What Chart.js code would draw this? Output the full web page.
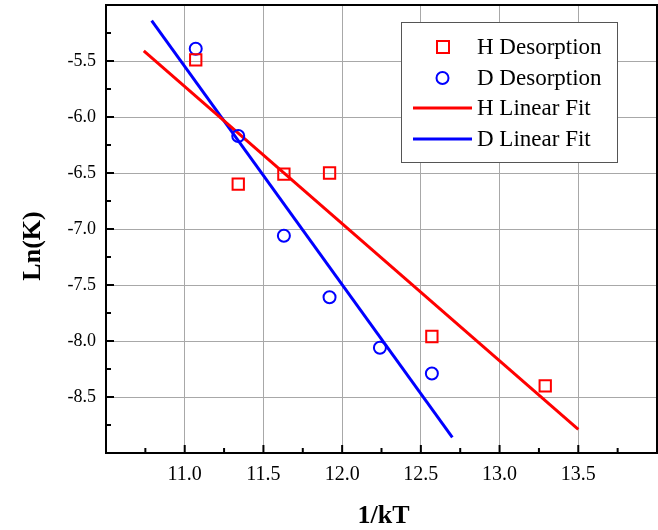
<!DOCTYPE html>
<html>
<head>
<meta charset="utf-8">
<script src="https://cdn.jsdelivr.net/npm/chart.js@4/dist/chart.umd.min.js"></script>
<style>
  html, body { margin: 0; padding: 0; background: #fff; }
  #wrap { width: 658px; height: 530px; }
</style>
</head>
<body>
<div id="wrap"><canvas id="chart" width="658" height="530"></canvas></div>
<script>
// ── Data ──
var hX = [11.07, 11.34, 11.63, 11.92, 12.57, 13.29];
var hY = [-5.49, -6.60, -6.51, -6.50, -7.96, -8.40];
var dX = [11.07, 11.34, 11.63, 11.92, 12.24, 12.57];
var dY = [-5.39, -6.17, -7.06, -7.61, -8.06, -8.29];

var hFitX = [10.74, 13.50];
var hFitY = [-5.41, -8.79];
var dFitX = [10.79, 12.70];
var dFitY = [-5.14, -8.86];

var xTicks = [11.0, 11.5, 12.0, 12.5, 13.0, 13.5];
var yTicks = [-5.5, -6.0, -6.5, -7.0, -7.5, -8.0, -8.5];

var SERIF = '"Liberation Serif", "DejaVu Serif", serif';

function pts(xs, ys) {
  return xs.map(function(x, i) { return { x: x, y: ys[i] }; });
}

// ── Inward ticks, frame, titles, legend ──
var framePlugin = {
  id: 'frame',
  afterDatasetsDraw: function(chart) {
    var ctx = chart.ctx;
    var a   = chart.chartArea;
    var xs  = chart.scales.x;
    var ys  = chart.scales.y;
    var v, p, major;

    ctx.save();
    ctx.strokeStyle = '#000';
    ctx.lineWidth   = 2;
    ctx.beginPath();
    ctx.moveTo(a.left, a.top);
    ctx.lineTo(a.right, a.top);
    ctx.lineTo(a.right, a.bottom);
    ctx.stroke();

    ctx.lineWidth = 2;
    for (v = xs.min; v <= xs.max + 1e-9; v += 0.25) {
      p     = xs.getPixelForValue(v);
      major = Math.abs(v * 2 - Math.round(v * 2)) < 1e-6;
      ctx.beginPath();
      ctx.moveTo(p, a.bottom);
      ctx.lineTo(p, a.bottom - (major ? 8 : 5));
      ctx.stroke();
    }
    for (v = ys.min; v <= ys.max + 1e-9; v += 0.25) {
      p     = ys.getPixelForValue(v);
      major = Math.abs(v * 2 - Math.round(v * 2)) < 1e-6;
      ctx.beginPath();
      ctx.moveTo(a.left, p);
      ctx.lineTo(a.left + (major ? 8 : 5), p);
      ctx.stroke();
    }

    // axis titles
    ctx.fillStyle    = '#000';
    ctx.font         = 'bold 26px ' + SERIF;
    ctx.textAlign    = 'center';
    ctx.textBaseline = 'middle';
    ctx.fillText('1/kT', (a.left + a.right) / 2 + 2, 516);
    ctx.translate(33, 246);
    ctx.rotate(-Math.PI / 2);
    ctx.fillText('Ln(K)', 0, 0);
    ctx.restore();

    // legend
    var box = { x: 401, y: 22, w: 216, h: 140 };
    ctx.save();
    ctx.fillStyle   = '#fff';
    ctx.fillRect(box.x, box.y, box.w, box.h);
    ctx.strokeStyle = '#555';
    ctx.lineWidth   = 1;
    ctx.strokeRect(box.x + 0.5, box.y + 0.5, box.w, box.h);

    var rows = [
      { label: 'H Desorption', kind: 'rect',   color: '#ff0000', y: 47 },
      { label: 'D Desorption', kind: 'circle', color: '#0000ff', y: 78 },
      { label: 'H Linear Fit', kind: 'line',   color: '#ff0000', y: 108 },
      { label: 'D Linear Fit', kind: 'line',   color: '#0000ff', y: 139 },
    ];
    rows.forEach(function(r) {
      ctx.strokeStyle = r.color;
      if (r.kind === 'rect') {
        ctx.lineWidth = 2;
        ctx.strokeRect(437, r.y - 6, 12, 12);
      } else if (r.kind === 'circle') {
        ctx.lineWidth = 2;
        ctx.beginPath();
        ctx.arc(442.5, r.y, 6, 0, Math.PI * 2);
        ctx.stroke();
      } else {
        ctx.lineWidth = 3;
        ctx.beginPath();
        ctx.moveTo(413, r.y);
        ctx.lineTo(472, r.y);
        ctx.stroke();
      }
      ctx.fillStyle    = '#000';
      ctx.font         = '23px ' + SERIF;
      ctx.textAlign    = 'left';
      ctx.textBaseline = 'middle';
      ctx.fillText(r.label, 477, r.y + 1);
    });
    ctx.restore();
  },
};

var ctx = document.getElementById('chart').getContext('2d');

new Chart(ctx, {
  type: 'scatter',
  data: {
    datasets: [
      {
        label: 'H Desorption',
        data: pts(hX, hY),
        pointStyle: 'rect',
        pointRadius: 8,
        pointBorderWidth: 2,
        pointBorderColor: '#ff0000',
        pointBackgroundColor: 'rgba(0,0,0,0)',
        showLine: false,
      },
      {
        label: 'D Desorption',
        data: pts(dX, dY),
        pointStyle: 'circle',
        pointRadius: 6,
        pointBorderWidth: 2,
        pointBorderColor: '#0000ff',
        pointBackgroundColor: 'rgba(0,0,0,0)',
        showLine: false,
      },
      {
        label: 'H Linear Fit',
        data: pts(hFitX, hFitY),
        showLine: true,
        borderColor: '#ff0000',
        borderWidth: 3,
        pointRadius: 0,
      },
      {
        label: 'D Linear Fit',
        data: pts(dFitX, dFitY),
        showLine: true,
        borderColor: '#0000ff',
        borderWidth: 3,
        pointRadius: 0,
      },
    ],
  },
  options: {
    responsive: false,
    animation: false,
    layout: { autoPadding: false, padding: { top: 5, right: 1, left: 0, bottom: 0 } },
    plugins: {
      legend: { display: false },
      tooltip: { enabled: false },
    },
    scales: {
      x: {
        type: 'linear',
        min: 10.5,
        max: 14.0,
        afterFit: function(scale) {
          scale.height       = 77;
          scale.paddingLeft  = 0;
          scale.paddingRight = 0;
        },
        afterBuildTicks: function(scale) {
          scale.ticks = [10.5].concat(xTicks, [14.0]).map(function(v) { return { value: v }; });
        },
        grid: {
          drawTicks: false,
          color: function(c) {
            return xTicks.indexOf(c.tick.value) >= 0 ? '#a8a8a8' : 'rgba(0,0,0,0)';
          },
          lineWidth: 1,
        },
        border: { display: true, color: '#000', width: 2 },
        ticks: {
          padding: 10,
          color: '#000',
          font: { family: SERIF, size: 20 },
          callback: function(v) {
            return xTicks.indexOf(v) >= 0 ? v.toFixed(1) : '';
          },
        },
      },
      y: {
        type: 'linear',
        min: -9.0,
        max: -5.0,
        afterFit: function(scale) {
          scale.width         = 106;
          scale.paddingTop    = 0;
          scale.paddingBottom = 0;
        },
        afterBuildTicks: function(scale) {
          scale.ticks = [-9.0].concat(yTicks.slice().reverse(), [-5.0]).map(function(v) { return { value: v }; });
        },
        grid: {
          drawTicks: false,
          color: function(c) {
            return yTicks.indexOf(c.tick.value) >= 0 ? '#a8a8a8' : 'rgba(0,0,0,0)';
          },
          lineWidth: 1,
        },
        border: { display: true, color: '#000', width: 2 },
        ticks: {
          padding: 10,
          color: '#000',
          font: { family: SERIF, size: 18 },
          callback: function(v) {
            return yTicks.indexOf(v) >= 0 ? v.toFixed(1) : '';
          },
        },
      },
    },
  },
  plugins: [framePlugin],
});
</script>
</body>
</html>
